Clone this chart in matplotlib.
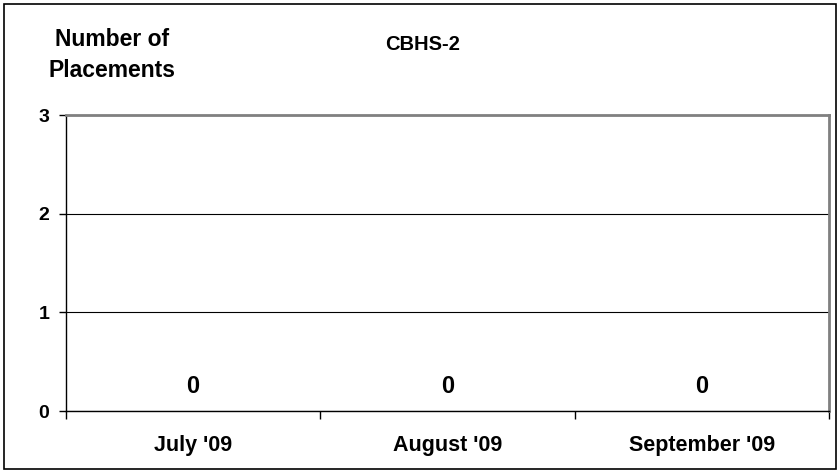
import numpy as np
import matplotlib
matplotlib.use('Agg')
import matplotlib.pyplot as plt

plt.rcParams['font.family'] = ['Liberation Sans', 'DejaVu Sans']
plt.rcParams['font.weight'] = 'bold'

# Data
categories = ["July '09", "August '09", "September '09"]
placements = [0, 0, 0]
y_ticks = [0, 1, 2, 3]
title = 'CBHS-2'
y_label = 'Number of\nPlacements'

fig = plt.figure(figsize=(8.4, 4.73), dpi=100)
# plot area placed in pixels of the 840x473 figure
ax = fig.add_axes([66 / 840, 1 - 411 / 473, (829 - 66) / 840, (411 - 115) / 473])

x = np.arange(len(categories))
ax.bar(x, placements, width=0.5, color='#9999ff')
for xi, v in zip(x, placements):
    ax.annotate(str(v), (xi, v), xytext=(0, 13), textcoords='offset points',
                ha='center', va='baseline', fontsize=17, fontweight='bold')

ax.set_xlim(-0.5, len(categories) - 0.5)
ax.set_ylim(0, 3)
ax.set_yticks(y_ticks)
ax.set_yticklabels([str(t) for t in y_ticks], fontsize=14, fontweight='bold')
ax.yaxis.grid(True, color='black', linewidth=0.8)
ax.set_axisbelow(True)

# category labels at centres, tick marks between categories
ax.set_xticks(x)
ax.set_xticklabels(categories, fontsize=15.5, fontweight='bold')
ax.tick_params(axis='x', length=0, pad=17)
ax.set_xticks(np.arange(-0.5, len(categories)), minor=True)
ax.tick_params(axis='x', which='minor', length=6, width=1, color='black')
ax.tick_params(axis='y', length=5, width=1, color='black', pad=7)

for side in ['top', 'right']:
    ax.spines[side].set_color('#808080')
    ax.spines[side].set_linewidth(2)
for side in ['left', 'bottom']:
    ax.spines[side].set_color('black')
    ax.spines[side].set_linewidth(1)

fig.text(423 / 840, 1 - 44 / 473, title, ha='center', va='center', fontsize=14.5, fontweight='bold')
fig.text(112 / 840, 1 - 55 / 473, y_label, ha='center', va='center', fontsize=16.5,
         fontweight='bold', linespacing=1.45)

# outer border
fig.patches.append(plt.Rectangle((4 / 840, 4 / 473), 832 / 840, 465 / 473, transform=fig.transFigure,
                                 fill=False, edgecolor='black', linewidth=1.2))

fig.savefig('out.png', dpi=100)
